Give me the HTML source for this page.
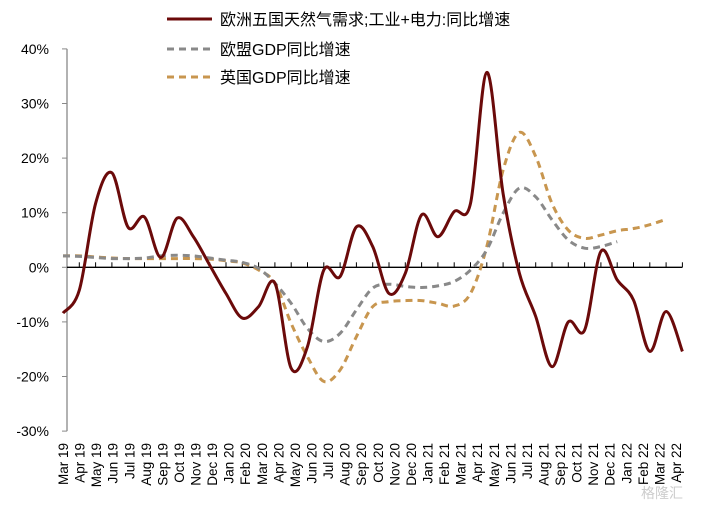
<!DOCTYPE html>
<html><head><meta charset="utf-8"><style>
body{margin:0;background:#fff;width:706px;height:508px;overflow:hidden}
svg{display:block}
text{font-family:"Liberation Sans","Noto Sans CJK SC",sans-serif}
</style></head><body>
<svg id="chart" width="706" height="508" viewBox="0 0 706 508"></svg>
<script>
const monthLabels=["Mar 19","Apr 19","May 19","Jun 19","Jul 19","Aug 19","Sep 19","Oct 19","Nov 19","Dec 19","Jan 20","Feb 20","Mar 20","Apr 20","May 20","Jun 20","Jul 20","Aug 20","Sep 20","Oct 20","Nov 20","Dec 20","Jan 21","Feb 21","Mar 21","Apr 21","May 21","Jun 21","Jul 21","Aug 21","Sep 21","Oct 21","Nov 21","Dec 21","Jan 22","Feb 22","Mar 22","Apr 22"];
const yTicks=[40,30,20,10,0,-10,-20,-30];
const gasDemand=[-8.4,-4.2,11.7,17.3,7.3,9.2,1.8,9.0,5.6,0.4,-4.8,-9.3,-7.2,-2.9,-18.5,-14.5,-0.5,-1.7,7.4,3.8,-4.8,-1.1,9.6,5.6,10.2,11.7,35.7,13.5,-1.1,-9.0,-18.2,-10.0,-11.5,2.9,-2.3,-6.0,-15.4,-8.1,-15.4];
const euGdp=[2.1,2.0,1.8,1.6,1.6,1.7,2.1,2.2,2.1,1.7,1.3,0.9,-0.2,-2.9,-6.6,-11.2,-13.6,-12.1,-7.8,-3.8,-3.1,-3.5,-3.7,-3.4,-2.6,-0.5,3.2,9.9,14.5,12.9,8.7,5.0,3.5,3.8,4.7];
const ukGdp=[2.1,2.1,1.9,1.7,1.6,1.6,1.6,1.6,1.6,1.5,1.2,0.8,-0.5,-2.9,-10.3,-16.4,-20.9,-18.8,-12.7,-7.2,-6.3,-6.1,-6.1,-6.6,-7.1,-4.8,3.8,17.8,24.7,20.3,11.7,6.8,5.3,5.9,6.7,7.1,7.8,8.8];

const svg=document.getElementById('chart');
const NS='http://www.w3.org/2000/svg';
const X0=63,STEP=16.3,Y0=267.3,PX=5.46;
const xs=i=>X0+i*STEP;
const ys=v=>Y0-v*PX;
function mk(tag,attrs,parent){const e=document.createElementNS(NS,tag);for(const k in attrs)e.setAttribute(k,attrs[k]);(parent||svg).appendChild(e);return e;}
function smooth(vals){const p=vals.map((v,i)=>[xs(i),ys(v)]);let d=`M${p[0][0]},${p[0][1]}`;
for(let i=0;i<p.length-1;i++){const a=p[i-1]||p[i],b=p[i],c=p[i+1],e=p[i+2]||c;
const c1=[b[0]+(c[0]-a[0])/6,b[1]+(c[1]-a[1])/6],c2=[c[0]-(e[0]-b[0])/6,c[1]-(e[1]-b[1])/6];
d+=`C${c1[0]},${c1[1]} ${c2[0]},${c2[1]} ${c[0]},${c[1]}`;}return d;}

// y axis
const ax=mk('line',{x1:67,y1:ys(40),x2:67,y2:ys(-30),stroke:'#888','stroke-width':1.3});


yTicks.forEach(t=>{
 const tk=mk('line',{x1:62,y1:ys(t),x2:67,y2:ys(t),stroke:'#888','stroke-width':1});
 
 
 const tl=mk('text',{x:49,y:ys(t)+5,'text-anchor':'end','font-size':14,fill:'#000'});
 tl.textContent=t+'%';
 
 
});
// zero line
const zl=mk('line',{x1:67,y1:Y0,x2:xs(38),y2:Y0,stroke:'#000','stroke-width':1.3});


for(let i=1;i<=38;i++){const tk=mk('line',{x1:xs(i),y1:Y0-5,x2:xs(i),y2:Y0,stroke:'#000','stroke-width':1});
 
 }
// x labels
const LS=(676-63)/(monthLabels.length-1);
monthLabels.forEach((m,i)=>{const x=63+i*LS;
 const t=mk('text',{x:0,y:0,'text-anchor':'end','font-size':13.5,fill:'#000',transform:`translate(${x+5},443) rotate(-90)`});
 t.textContent=m;
 
 
});
// series
const pUk=mk('path',{d:smooth(ukGdp),fill:'none',stroke:'#C8964F','stroke-width':3,'stroke-dasharray':'7,5'});


const pEu=mk('path',{d:smooth(euGdp),fill:'none',stroke:'#898989','stroke-width':3,'stroke-dasharray':'7,5'});


const pGas=mk('path',{d:smooth(gasDemand),fill:'none',stroke:'#6B0A0A','stroke-width':3});


// legend
const leg=[["欧洲五国天然气需求;工业+电力:同比增速",'#6B0A0A',null,19],["欧盟GDP同比增速",'#898989','7,5',49],["英国GDP同比增速",'#C8964F','7,5',77]];
leg.forEach(([txt,c,da,y])=>{
 const g=mk('g',{});
 
 
 const a={x1:167,y1:y,x2:212,y2:y,stroke:c,'stroke-width':3};if(da)a['stroke-dasharray']=da;
 mk('line',a,g);
 const t=mk('text',{x:220,y:y+6,'font-size':16,fill:'#000'},g);t.textContent=txt;
});
const wm=mk('text',{x:641,y:498,'font-size':14,fill:'#ccc'});
wm.textContent='格隆汇';


</script>
</body></html>
